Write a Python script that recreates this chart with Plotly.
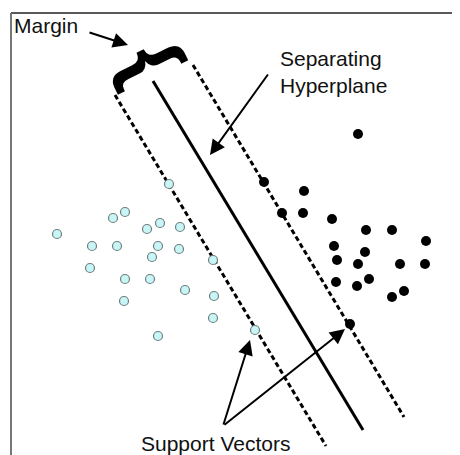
import plotly.graph_objects as go

# diagram drawn in a pixel-like coordinate system (x right, y down)
# class A (open, light cyan) points
cyan_x = [169, 125, 113, 57, 160, 147, 180, 92, 117, 158, 179, 152, 213, 90, 125, 150, 185, 214, 124, 213, 158, 255]
cyan_y = [184, 212, 218, 234, 223, 229, 227, 246, 246, 246, 249, 257, 260, 268, 279, 279, 290, 296, 301, 318, 336, 330]

# class B (filled, black) points
black_x = [358, 264, 304, 282, 303, 332, 366, 392, 426, 334, 365, 337, 358, 400, 425, 460, 336, 369, 357, 404, 392, 350]
black_y = [134, 182, 191, 213, 213, 219, 230, 230, 241, 246, 252, 260, 264, 264, 264, 275, 282, 279, 286, 291, 297, 324]

# hyperplane and the two margin lines (start, end)
hyper_x = [153, 363]
hyper_y = [81, 430]
margin_left_x = [115, 326]
margin_left_y = [95, 446]
margin_right_x = [193, 404]
margin_right_y = [65, 417]

fig = go.Figure()

fig.add_trace(go.Scatter(x=hyper_x, y=hyper_y, mode="lines",
                         line=dict(color="black", width=3)))
fig.add_trace(go.Scatter(x=margin_left_x, y=margin_left_y, mode="lines",
                         line=dict(color="black", width=3, dash="5px,3px")))
fig.add_trace(go.Scatter(x=margin_right_x, y=margin_right_y, mode="lines",
                         line=dict(color="black", width=3, dash="5px,3px")))

fig.add_trace(go.Scatter(x=cyan_x, y=cyan_y, mode="markers",
                         marker=dict(size=9, color="#c8f5f5",
                                     line=dict(color="#6f7f80", width=1.2))))
fig.add_trace(go.Scatter(x=black_x, y=black_y, mode="markers",
                         marker=dict(size=10, color="black")))

font = dict(family="Liberation Sans, Arial", size=21, color="#111")

# labels
fig.add_annotation(x=12, y=25, text="Margin", showarrow=False,
                   xanchor="left", yanchor="middle", font=font)
fig.add_annotation(x=278, y=72, text="Separating<br>Hyperplane", showarrow=False,
                   xanchor="left", yanchor="middle", align="left", font=font)
fig.add_annotation(x=139, y=443, text="Support Vectors", showarrow=False,
                   xanchor="left", yanchor="middle", font=font)

# brace
fig.add_annotation(x=153, y=61, text="<b>{</b>", showarrow=False, textangle=64,
                   font=dict(family="Liberation Sans, Arial", size=84, color="black"))

# arrows
arrow = dict(showarrow=True, arrowhead=2, arrowsize=1.5, arrowwidth=2,
             arrowcolor="black", axref="x", ayref="y", xref="x", yref="y", text="")
fig.add_annotation(x=128, y=45, ax=88, ay=32, **arrow)
fig.add_annotation(x=210, y=155, ax=269, ay=73, **arrow)
fig.add_annotation(x=250, y=340, ax=223, ay=426, **arrow)
fig.add_annotation(x=345, y=329, ax=223, ay=426, **arrow)

# frame
fig.add_shape(type="line", x0=11, x1=460, y0=13, y1=13,
              line=dict(color="#222", width=1.5))
fig.add_shape(type="line", x0=11, x1=11, y0=13, y1=455,
              line=dict(color="#777", width=2))

# page places the figure 8px in from the corner, so the ranges start at 8
fig.update_xaxes(range=[8, 460], visible=False)
fig.update_yaxes(range=[455, 8], visible=False)
fig.update_layout(width=452, height=447, margin=dict(l=0, r=0, t=0, b=0),
                  showlegend=False, plot_bgcolor="white", paper_bgcolor="white")

fig.write_html("out.html")
